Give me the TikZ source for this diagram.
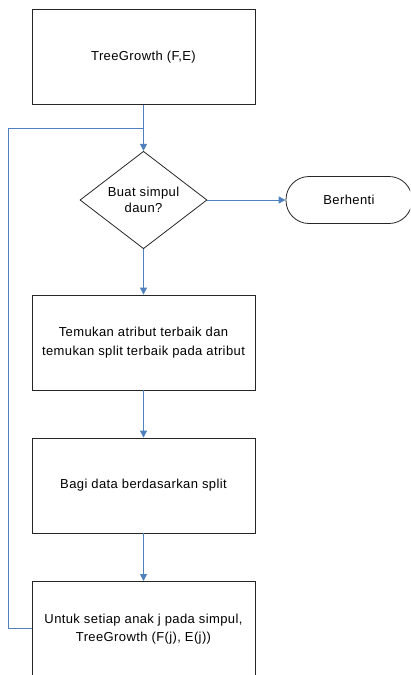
\documentclass[tikz,border=0pt]{standalone}
\usepackage{fontspec}
\setmainfont[LetterSpace=3]{Liberation Sans}
\usetikzlibrary{shapes.geometric,arrows.meta}
\definecolor{flowblue}{RGB}{79,129,189}
\begin{document}
\begin{tikzpicture}[x=1pt,y=-1pt,
  box/.style={draw=black!85, line width=0.9pt, minimum width=223pt, minimum height=95pt, inner sep=0pt, align=center, font=\fontsize{13}{18.5}\selectfont},
  decision/.style={draw=black!85, line width=0.8pt, shape=diamond, minimum width=127pt, minimum height=94pt, inner sep=0pt, align=center, font=\fontsize{13}{16.5}\selectfont},
  terminal/.style={draw=black!85, line width=0.8pt, rounded corners=23pt, minimum width=126pt, minimum height=47pt, inner sep=0pt, font=\fontsize{13}{15}\selectfont},
  flow/.style={draw=flowblue, line width=1pt, -{Triangle[width=7pt,length=7pt]}},
  loopline/.style={draw=flowblue, line width=1pt}]
\clip (0,0) rectangle (410,675);
\node[box] (grow) at (143.5,57) {TreeGrowth (F,E)};
\node[decision] (leaf) at (143.5,200) {Buat simpul\\daun?};
\node[terminal] (stop) at (349,200) {Berhenti};
\node[box] (find) at (143.5,342.5) {Temukan atribut terbaik dan\\temukan split terbaik pada atribut};
\node[box] (split) at (143.5,485.5) {Bagi data berdasarkan split};
\node[box, minimum height=110pt, anchor=north] (child) at (143.5,581) {};
\node[align=center, font=\fontsize{13}{18}\selectfont] (childtext) at (143.5,629) {Untuk setiap anak j pada simpul,\\TreeGrowth (F(j), E(j))};
\coordinate (join) at (143.5,128);
\coordinate (bend) at (8,628.5);
\draw[flow] (grow.south) -- (leaf.north);
\draw[flow] (leaf.east) -- (stop.west);
\draw[flow] (leaf.south) -- (find.north);
\draw[flow] (find.south) -- (split.north);
\draw[flow] (split.south) -- (child.north);
\draw[loopline] (child.west |- bend) -- (bend) |- (join);
\end{tikzpicture}
\end{document}
